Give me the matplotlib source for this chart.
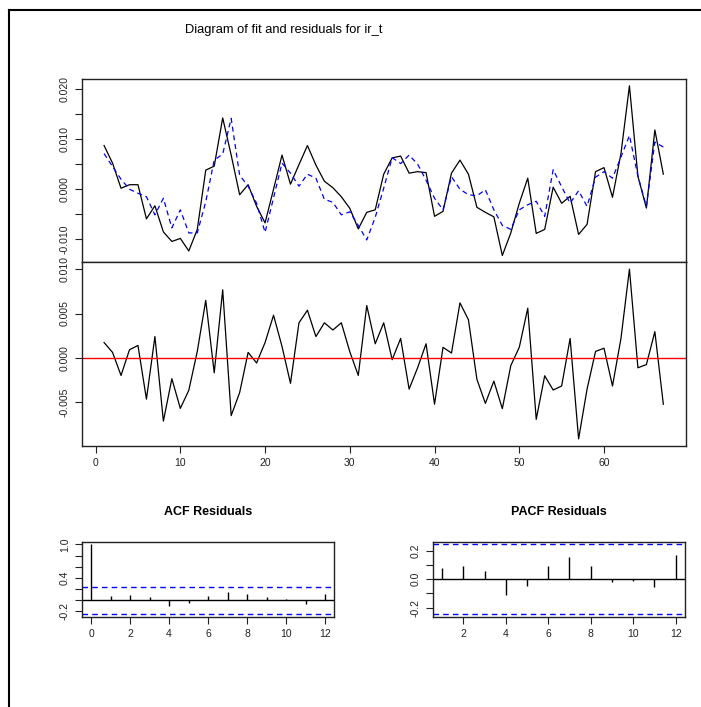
import numpy as np
import matplotlib
matplotlib.use("Agg")
import matplotlib.pyplot as plt
from matplotlib import font_manager
from matplotlib.lines import Line2D

plt.rcParams['font.family'] = ['Liberation Sans', 'DejaVu Sans']

# series (units of 0.001)
t = np.arange(1, 68)
actual = np.array([
    8.7, 5.2, 0.2, 0.9, 0.9, -5.9, -3.3, -8.5, -10.4, -9.8,
    -12.3, -8.0, 3.8, 4.6, 14.2, 6.8, -1.1, 0.9, -3.4, -6.7,
    0.0, 6.8, 1.0, 4.9, 8.7, 4.8, 1.6, 0.3, -1.5, -3.8,
    -7.9, -4.6, -4.1, 3.0, 6.25, 6.6, 3.2, 3.5, 3.3, -5.4,
    -4.4, 3.2, 5.8, 3.0, -3.6, -4.6, -5.5, -13.2, -8.7, -2.8,
    2.2, -8.8, -8.0, 0.4, -2.8, -1.4, -9.0, -7.0, 3.5, 4.3,
    -1.6, 7.1, 20.6, 2.6, -3.75, 11.8, 3.0]) / 1000
fitted = np.array([
    7.1, 4.5, 2.0, 0.0, -0.8, -1.5, -5.1, -1.8, -7.7, -4.1,
    -8.7, -8.7, -2.5, 5.8, 7.0, 14.1, 2.8, 0.6, -2.8, -8.6,
    -1.7, 5.2, 3.2, 0.6, 3.0, 2.2, -2.0, -2.6, -5.1, -4.5,
    -7.2, -10.1, -5.6, 0.2, 6.3, 5.1, 6.8, 5.0, 1.8, -1.8,
    -4.1, 2.5, 0.0, -1.1, -1.3, -0.1, -4.1, -7.2, -8.0, -4.1,
    -3.1, -2.4, -5.4, 3.9, 0.5, -2.8, -0.3, -3.4, 2.4, 3.5,
    2.2, 6.4, 10.7, 2.6, -3.4, 9.4, 8.4]) / 1000
resid = np.array([
    1.74, 0.63, -1.96, 0.93, 1.41, -4.63, 2.41, -7.1, -2.33, -5.67,
    -3.63, 0.74, 6.48, -1.67, 7.67, -6.48, -3.89, 0.63, -0.56, 1.74,
    4.81, 1.3, -2.85, 3.96, 5.37, 2.41, 3.96, 3.15, 3.96, 0.7,
    -1.96, 5.9, 1.6, 3.96, -0.19, 2.2, -3.5, -1.1, 1.6, -5.2,
    1.2, 0.56, 6.2, 4.3, -2.4, -5.1, -2.6, -5.7, -0.85, 1.2,
    5.6, -6.9, -2.0, -3.6, -3.15, 2.2, -9.1, -3.5, 0.74, 1.1,
    -3.15, 2.2, 10.0, -1.1, -0.74, 2.96, -5.2]) / 1000

acf_lags = np.arange(0, 13)
acf_vals = [1.0, 0.085, 0.10, 0.067, -0.11, -0.05, 0.085, 0.145, 0.12, 0.06, 0.03, -0.06, 0.12]
pacf_lags = np.arange(1, 13)
pacf_vals = [0.077, 0.094, 0.058, -0.115, -0.047, 0.094, 0.155, 0.094, -0.019, -0.016, -0.056, 0.171]
conf = 0.245

W, H = 701, 707
fig = plt.figure(figsize=(W / 100, H / 100), dpi=100)


def rect(x0, y0, x1, y1):
    return [x0 / W, 1 - y1 / H, (x1 - x0) / W, (y1 - y0) / H]


def rlim(vals):
    lo, hi = min(vals), max(vals)
    d = (hi - lo) * 0.04
    return lo - d, hi + d


def style(ax):
    for s in ax.spines.values():
        s.set_linewidth(1.0)
        s.set_color('#222222')
    ax.tick_params(direction='out', length=5, width=0.8, labelsize=7.5, colors='#222222')


# border of the window
fig.add_artist(Line2D([9 / W, 9 / W], [0, 1 - 10 / H], color='black', lw=1.5))
fig.add_artist(Line2D([9 / W, 1], [1 - 10 / H, 1 - 10 / H], color='black', lw=1.5))

# R on windows draws the title in a tall, narrow face
names = {f.name for f in font_manager.fontManager.ttflist}
if 'Liberation Sans Narrow' in names:
    title_font, title_size = 'Liberation Sans Narrow', 11.3
else:
    title_font, title_size = 'Liberation Sans', 9.3
fig.text(283.5 / W, 1 - 30 / H, "Diagram of fit and residuals for ir_t",
         ha='center', va='center', fontsize=title_size, family=[title_font, 'DejaVu Sans'])

xl = rlim(t)

# fit
ax1 = fig.add_axes(rect(81.7, 79, 685.7, 262.3))
ax1.plot(t, actual, color='black', lw=0.9)
ax1.plot(t, fitted, color='blue', lw=0.9, ls=(0, (4, 3)))
ax1.set_xlim(xl)
ax1.set_ylim(rlim(np.concatenate([actual, fitted])))
yt = np.arange(-0.010, 0.0201, 0.005)
ax1.set_yticks(yt)
ax1.set_yticklabels([f"{v:.3f}" if i % 2 == 0 else "" for i, v in enumerate(yt)],
                    rotation=90, va='center')
ax1.set_xticks([])
style(ax1)

# residuals
ax2 = fig.add_axes(rect(81.7, 262.3, 685.7, 445.7))
ax2.plot(t, resid, color='black', lw=0.9)
ax2.axhline(0, color='red', lw=1.0)
ax2.set_xlim(xl)
ax2.set_ylim(rlim(resid))
yt2 = [-0.005, 0.0, 0.005, 0.010]
ax2.set_yticks(yt2)
ax2.set_yticklabels(["-0.005", "0.000", "0.005", "0.010"], rotation=90, va='center')
ax2.set_xticks(np.arange(0, 61, 10))
style(ax2)

# ACF
ax3 = fig.add_axes(rect(81.7, 541.7, 334.4, 616.7))
ax3.vlines(acf_lags, 0, acf_vals, color='black', lw=1.0)
ax3.axhline(0, color='black', lw=1.0)
ax3.axhline(conf, color='blue', lw=1.0, ls=(0, (4, 3)))
ax3.axhline(-conf, color='blue', lw=1.0, ls=(0, (4, 3)))
ax3.set_xlim(rlim(acf_lags))
ax3.set_ylim(rlim([-conf, conf] + acf_vals))
yt3 = [-0.2, 0.0, 0.2, 0.4, 0.6, 0.8, 1.0]
ax3.set_yticks(yt3)
ax3.set_yticklabels(["-0.2", "", "", "0.4", "", "", "1.0"], rotation=90, va='center')
ax3.set_xticks(np.arange(0, 13, 2))
style(ax3)
ax3.set_title("ACF Residuals", fontsize=9, fontweight='bold', pad=19)

# PACF
ax4 = fig.add_axes(rect(432.7, 541.7, 685, 616.7))
ax4.vlines(pacf_lags, 0, pacf_vals, color='black', lw=1.0)
ax4.axhline(0, color='black', lw=1.0)
ax4.axhline(conf, color='blue', lw=1.0, ls=(0, (4, 3)))
ax4.axhline(-conf, color='blue', lw=1.0, ls=(0, (4, 3)))
ax4.set_xlim(rlim(pacf_lags))
ax4.set_ylim(rlim([-conf, conf] + pacf_vals))
yt4 = [-0.2, -0.1, 0.0, 0.1, 0.2]
ax4.set_yticks(yt4)
ax4.set_yticklabels(["-0.2", "", "0.0", "", "0.2"], rotation=90, va='center')
ax4.set_xticks(np.arange(2, 13, 2))
style(ax4)
ax4.set_title("PACF Residuals", fontsize=9, fontweight='bold', pad=19)

fig.savefig("out.png", dpi=100)
